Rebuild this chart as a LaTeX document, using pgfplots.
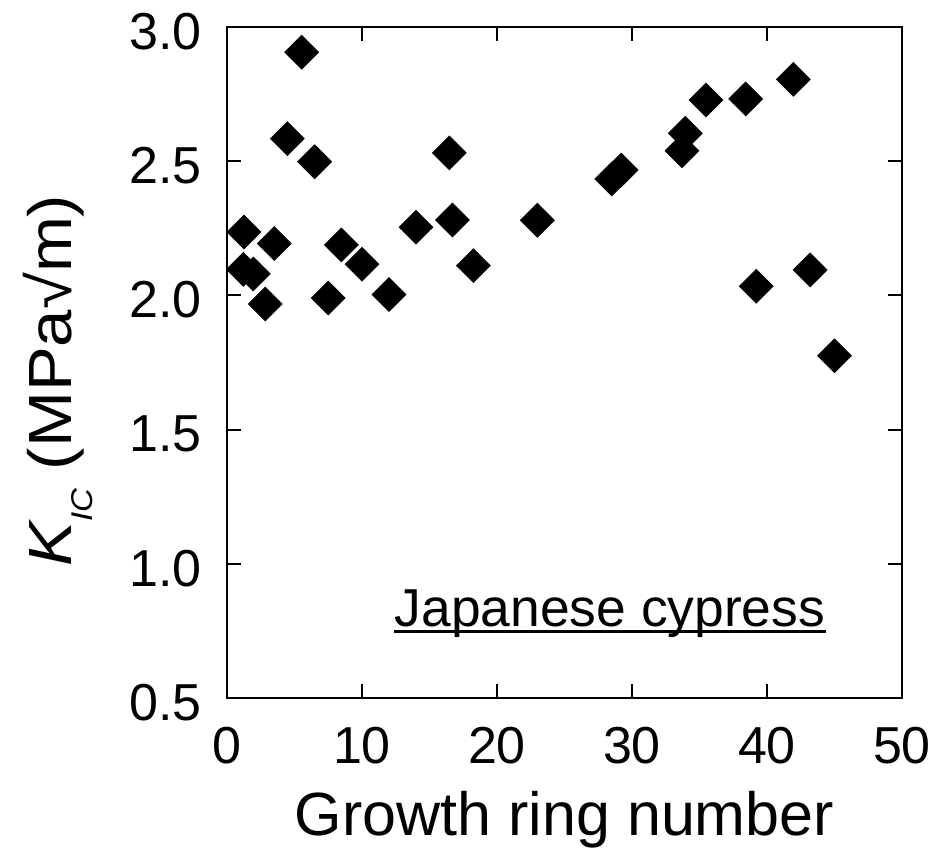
\documentclass[border=0pt]{standalone}
\usepackage{fontspec}
\setmainfont{Liberation Sans}
\usepackage{pgfplots}
\pgfplotsset{compat=1.18}

\pgfplotstableread{
x y
1.26 2.236
1.21 2.097
1.95 2.080
2.84 1.968
3.50 2.193
4.47 2.584
5.53 2.906
6.49 2.498
7.50 1.990
8.47 2.188
10.0 2.116
12.0 2.003
14.0 2.254
16.47 2.531
16.70 2.281
18.25 2.111
22.99 2.280
28.5 2.434
29.2 2.467
33.7 2.539
33.95 2.604
35.48 2.728
38.42 2.732
39.2 2.034
41.95 2.805
43.2 2.095
45.0 1.775
}\datatable

\begin{document}
\begin{tikzpicture}
\begin{axis}[
  name=ax,
  scale only axis,
  width=337.5pt, height=335.5pt,
  xmin=0, xmax=50, ymin=0.5, ymax=3.0,
  xtick={0,10,20,30,40,50},
  ytick={0.5,1,1.5,2,2.5,3},
  tick align=inside,
  major tick length=7pt,
  tick style={black, line width=1pt},
  axis line style={black, line width=1pt},
  /pgf/number format/assume math mode=true,
  yticklabel style={/pgf/number format/.cd, fixed, fixed zerofill, precision=1, /tikz/.cd,
    font=\fontsize{26}{26}\selectfont, anchor=east, inner sep=0pt, xshift=-12.5pt, yshift=-2.3pt},
  xticklabel style={font=\fontsize{26}{26}\selectfont, anchor=north, inner sep=0pt, yshift=-14.5pt},
  xlabel={Growth ring number},
  ylabel={\scalebox{1.1}[1]{{\itshape K}\raisebox{-10.5pt}{\fontsize{15}{15}\selectfont\itshape IC} (MPa√m)}},
  every axis x label/.style={at={(axis description cs:0.5,0)}, anchor=base, yshift=-68.5pt,
    font=\fontsize{30.5}{30.5}\selectfont},
  every axis y label/.style={at={(axis description cs:-0.2311,0.473)}, anchor=base, rotate=90,
    font=\fontsize{30.5}{30.5}\selectfont},
]
\addplot[only marks, mark=square*, mark size=6pt,
  mark options={rotate=45, fill=black, draw=black, line width=0.3pt}] table[x=x, y=y] {\datatable};
\node[anchor=base, font=\fontsize{26.7}{30}\selectfont, inner sep=0pt] (jc) at (axis cs:28.37,0.766) {Japanese cypress};
\draw[line width=1.3pt] ([yshift=-2.3pt]jc.base west) -- ([yshift=-2.3pt]jc.base east);
\end{axis}
\pgfresetboundingbox
\path[use as bounding box] ([xshift=-113.5pt,yshift=-77.5pt]ax.south west) rectangle ([xshift=354pt,yshift=349pt]ax.south west);
\end{tikzpicture}
\end{document}
